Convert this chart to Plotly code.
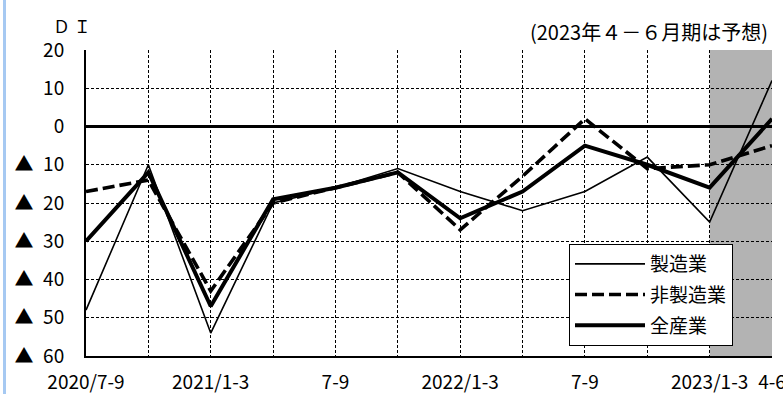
import plotly.graph_objects as go

# Quarterly periods and DI values
periods = ["2020/7-9", "2020/10-12", "2021/1-3", "2021/4-6", "2021/7-9", "2021/10-12",
           "2022/1-3", "2022/4-6", "2022/7-9", "2022/10-12", "2023/1-3", "2023/4-6"]
tick_labels = ["2020/7-9", "", "2021/1-3", "", "7-9", "", "2022/1-3", "", "7-9", "", "2023/1-3", "4-6"]

manufacturing = [-48, -10, -54, -20, -16, -11, -17, -22, -17, -8, -25, 12]
non_manufacturing = [-17, -14, -43, -20, -16, -12, -27, -13, 2, -11, -10, -5]
all_industries = [-30, -12, -47, -19, -16, -12, -24, -17, -5, -10, -16, 2]

y_ticks = [20, 10, 0, -10, -20, -30, -40, -50, -60]
y_tick_text = ["20", "10", "0", "▲\u200210", "▲\u200220", "▲\u200230", "▲\u200240", "▲\u200250", "▲\u200260"]

forecast_period = ["2023/1-3", "2023/4-6"]

FONT = "Noto Sans CJK JP"

fig = go.Figure()
fig.add_trace(go.Scatter(x=periods, y=manufacturing, name="製造業", mode="lines",
                         legendgroup="mfg",
                         line=dict(color="black", width=1.6)))
fig.add_trace(go.Scatter(x=periods, y=non_manufacturing, name="非製造業", mode="lines",
                         legendgroup="nonmfg",
                         line=dict(color="black", width=3.6, dash="12px,5px")))
fig.add_trace(go.Scatter(x=periods, y=all_industries, name="全産業", mode="lines",
                         legendgroup="all",
                         line=dict(color="black", width=4)))

# Forecast quarter shading
fig.add_shape(type="rect", xref="x", yref="y",
              x0=forecast_period[0], x1=forecast_period[1], y0=-60, y1=20,
              fillcolor="#b3b3b3", line=dict(width=0), layer="below")

# Light blue page edge on the left
fig.add_shape(type="rect", xref="paper", yref="paper",
              x0=(3 - 86) / 686, x1=(6 - 86) / 686, y0=-38 / 306, y1=356 / 306,
              fillcolor="#a6c9f2", line=dict(width=0))

fig.add_annotation(text="Ｄ Ｉ", xref="paper", yref="paper",
                   x=(51 - 86) / 686, y=(356 - 25) / 306, xanchor="left", yanchor="middle",
                   showarrow=False, font=dict(family=FONT, size=17, color="black"))
fig.add_annotation(text="(2023年４－６月期は予想)", xref="paper", yref="paper",
                   x=(770 - 86) / 686, y=(356 - 32) / 306, xanchor="right", yanchor="middle",
                   showarrow=False, font=dict(family=FONT, size=20, color="black"))

fig.update_layout(
    width=783, height=394,
    margin=dict(l=86, r=11, t=50, b=38),
    paper_bgcolor="white", plot_bgcolor="white",
    font=dict(family=FONT, size=19, color="black"),
    showlegend=True,
    legend=dict(x=(569 - 86) / 686, y=(356 - 244) / 306, xanchor="left", yanchor="top",
                bgcolor="white", bordercolor="black", borderwidth=1,
                font=dict(family=FONT, size=19, color="black"),
                itemwidth=70, tracegroupgap=3),
    xaxis=dict(type="category", range=[0, 11], tickmode="array",
               tickvals=periods, ticktext=tick_labels, tickangle=0, automargin=False,
               showgrid=True, gridcolor="black", gridwidth=1, griddash="3px,2px",
               showline=True, linecolor="black", linewidth=2,
               ticks="", ticklabelstandoff=8, tickfont=dict(size=19)),
    yaxis=dict(range=[-60, 20], tickmode="array", tickvals=y_ticks, ticktext=y_tick_text,
               automargin=False,
               showgrid=True, gridcolor="black", gridwidth=1, griddash="3px,2px",
               zeroline=True, zerolinecolor="black", zerolinewidth=3,
               showline=True, linecolor="black", linewidth=2,
               ticks="", ticklabelstandoff=16, tickfont=dict(size=19)),
)

fig.write_html("out.html")
